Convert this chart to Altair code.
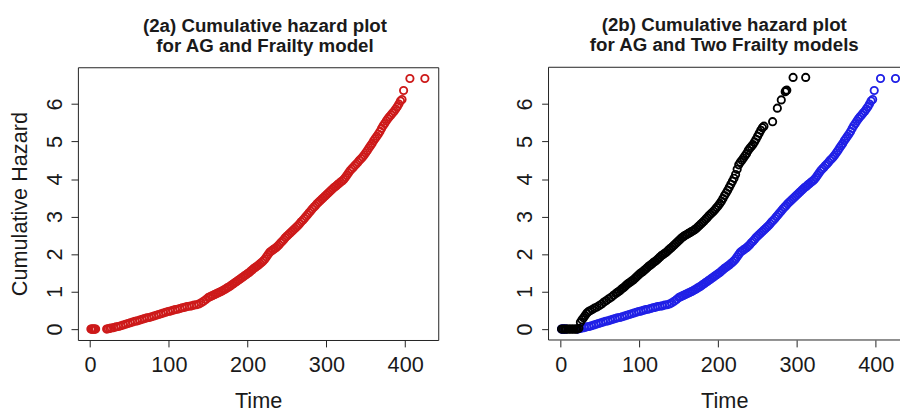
import altair as alt
import pandas as pd

# AG model: cumulative hazard at each event time
ag_time = [1, 2, 3, 4, 5, 6, 7,
           21, 23, 25, 27, 30, 33, 36, 39, 42, 45, 48, 51, 54, 57, 60, 63, 66, 69, 72, 75,
           78, 81, 84, 87, 90, 93, 96, 99, 102, 105, 108, 111, 114, 117, 120, 123, 126, 129,
           132, 135, 138, 141, 144, 147, 150, 152, 154, 156, 158, 160, 162, 164, 166, 168,
           170, 172, 174, 176, 178, 180, 182, 184, 186, 188, 190, 192, 194, 196, 198, 200,
           202, 204, 206, 208, 210, 212, 214, 216, 218, 220, 222, 224, 226, 228, 230, 232,
           234, 236, 238, 240, 242, 244, 246, 248, 250, 252, 254, 256, 258, 260, 262, 264,
           266, 268, 270, 272, 274, 276, 278, 280, 282, 284, 286, 288, 290, 292, 294, 296,
           298, 300, 302, 304, 306, 308, 310, 312, 314, 316, 318, 320, 322, 324, 326, 328,
           330, 332, 334, 336, 338, 340, 342, 344, 346, 348, 350, 352, 354, 356, 358, 360,
           362, 364, 366, 368, 370, 372, 374, 376, 378, 380, 382, 384, 386, 388, 390, 392,
           394, 396, 398, 406, 425]
ag_haz = [0, 0, 0, 0, 0, 0, 0,
          0.00, 0.01, 0.02, 0.03, 0.04, 0.06, 0.07, 0.09, 0.11, 0.13, 0.15, 0.17, 0.19, 0.21, 0.22, 0.24, 0.26, 0.28, 0.30, 0.31,
          0.33, 0.35, 0.37, 0.39, 0.41, 0.43, 0.45, 0.47, 0.48, 0.50, 0.52, 0.53, 0.55, 0.57, 0.58, 0.60, 0.61, 0.62,
          0.64, 0.65, 0.67, 0.70, 0.74, 0.79, 0.84, 0.86, 0.88, 0.90, 0.92, 0.94, 0.96, 0.98, 1.00, 1.02,
          1.05, 1.07, 1.10, 1.12, 1.15, 1.18, 1.21, 1.24, 1.27, 1.30, 1.33, 1.36, 1.39, 1.42, 1.45, 1.48,
          1.51, 1.55, 1.58, 1.62, 1.65, 1.68, 1.71, 1.75, 1.78, 1.82, 1.87, 1.93, 1.99, 2.05, 2.08, 2.11,
          2.14, 2.17, 2.21, 2.25, 2.30, 2.34, 2.39, 2.44, 2.48, 2.52, 2.56, 2.60, 2.64, 2.68, 2.72, 2.76,
          2.81, 2.86, 2.90, 2.95, 3.00, 3.05, 3.10, 3.15, 3.20, 3.25, 3.29, 3.34, 3.38, 3.42, 3.46, 3.50,
          3.54, 3.58, 3.62, 3.66, 3.70, 3.74, 3.78, 3.81, 3.85, 3.88, 3.92, 3.95, 3.99, 4.04, 4.10, 4.16,
          4.22, 4.27, 4.31, 4.36, 4.40, 4.45, 4.50, 4.54, 4.59, 4.64, 4.70, 4.76, 4.83, 4.89, 4.95, 5.02,
          5.08, 5.14, 5.20, 5.27, 5.35, 5.42, 5.48, 5.55, 5.61, 5.66, 5.71, 5.76, 5.81, 5.87, 5.93, 6.00,
          6.08, 6.12, 6.36, 6.68, 6.68]

# Frailty model (black series in panel 2b)
fr_time = [1, 3, 5, 7, 9, 11, 13, 15, 17, 19, 21, 23,
           25, 27, 29, 31, 33, 35, 37, 40, 43, 46, 49, 52, 55, 58, 61, 64, 67, 70, 72, 74,
           76, 78, 80, 82, 84, 86, 88, 90, 92, 94, 96, 98, 100, 102, 104, 106, 108, 110, 112,
           114, 116, 118, 120, 122, 124, 126, 128, 130, 132, 134, 136, 138, 140, 142, 144, 146,
           148, 150, 152, 154, 156, 158, 160, 162, 164, 166, 168, 170, 172, 174, 176, 178, 180,
           182, 184, 186, 188, 190, 192, 194, 196, 198, 200, 202, 204, 206, 208, 210, 212, 214,
           216, 218, 220, 222, 224, 226, 228, 230, 232, 234, 236, 238, 240, 242, 244, 246, 248,
           250, 252, 254, 256, 258, 269, 275, 280, 285, 286, 287, 295, 311]
fr_haz = [0, 0, 0, 0, 0, 0, 0, 0, 0, 0, 0, 0.02,
          0.18, 0.25, 0.30, 0.36, 0.42, 0.46, 0.49, 0.52, 0.56, 0.59, 0.63, 0.67, 0.72, 0.76, 0.81, 0.85, 0.90, 0.95, 0.98, 1.01,
          1.04, 1.08, 1.11, 1.15, 1.19, 1.22, 1.25, 1.28, 1.31, 1.35, 1.39, 1.43, 1.47, 1.50, 1.53, 1.57, 1.60, 1.64, 1.68,
          1.71, 1.74, 1.78, 1.81, 1.84, 1.88, 1.92, 1.96, 1.99, 2.02, 2.05, 2.09, 2.13, 2.16, 2.20, 2.24, 2.28,
          2.32, 2.36, 2.40, 2.44, 2.47, 2.50, 2.52, 2.55, 2.57, 2.60, 2.62, 2.65, 2.68, 2.72, 2.76, 2.80, 2.84,
          2.88, 2.93, 2.97, 3.02, 3.06, 3.10, 3.14, 3.19, 3.24, 3.29, 3.35, 3.41, 3.48, 3.56, 3.63, 3.70, 3.78,
          3.86, 3.94, 4.02, 4.12, 4.26, 4.38, 4.45, 4.50, 4.56, 4.62, 4.68, 4.76, 4.82, 4.87, 4.92, 4.99, 5.06,
          5.14, 5.22, 5.30, 5.37, 5.41, 5.53, 5.89, 6.11, 6.33, 6.36, 6.37, 6.71, 6.71]

x_ticks = [0, 100, 200, 300, 400]
y_ticks = [0, 1, 2, 3, 4, 5, 6]

FONT = "Liberation Sans"
RED = "#cd1a1a"
BLUE = "#2020e6"
BLACK = "#000000"
EDGE = "#222222"

ag_df = pd.DataFrame({"time": ag_time, "haz": ag_haz})
fr_df = pd.DataFrame({"time": fr_time, "haz": fr_haz})

H = 277
WL = 366          # left panel (full frame)
WR = 357          # right panel, cut off by the page edge like the reference
PX_PER_UNIT = 0.8
xs_left = alt.Scale(domain=[-15.5, -15.5 + WL / PX_PER_UNIT], nice=False, zero=False)
xs_right = alt.Scale(domain=[-15.5, -15.5 + WR / PX_PER_UNIT], nice=False, zero=False)
ys = alt.Scale(domain=[-0.29, 6.98], nice=False, zero=False)


def enc(chart, xs, ytitle):
    yaxis = dict(values=y_ticks, labelAngle=270, labelAlign="center",
                 labelBaseline="bottom", labelPadding=5, titlePadding=12)
    yaxis["title"] = ytitle if ytitle else ""
    return chart.encode(
        x=alt.X("time:Q", scale=xs,
                axis=alt.Axis(values=x_ticks, title="Time", labelPadding=8,
                              titlePadding=16)),
        y=alt.Y("haz:Q", scale=ys, axis=alt.Axis(**yaxis)),
    )


def pts(df, color):
    return alt.Chart(df).mark_point(shape="circle", filled=False, size=55,
                                    strokeWidth=1.9, color=color, opacity=1,
                                    clip=True)


def ttl(lines, dx):
    return alt.TitleParams(text=lines, font=FONT, fontSize=19, fontWeight="bold",
                           lineHeight=20, anchor="middle", dx=dx, offset=12,
                           color="#1a1a1a")


left = enc(pts(ag_df, RED), xs_left, "Cumulative Hazard").properties(
    width=WL, height=H,
    title=ttl(["(2a) Cumulative hazard plot", "for AG and Frailty model"], 7))

# frame of the right panel: left, top and bottom edges only (right edge is off-page)
frame_top = alt.Chart().mark_rule(color=EDGE, strokeWidth=1).encode(
    x=alt.value(0), x2=alt.value(WR), y=alt.value(0))
frame_bottom = alt.Chart().mark_rule(color=EDGE, strokeWidth=1).encode(
    x=alt.value(0), x2=alt.value(WR), y=alt.value(H))
frame_left = alt.Chart().mark_rule(color=EDGE, strokeWidth=1).encode(
    x=alt.value(0), y=alt.value(0), y2=alt.value(H))

right = alt.layer(
    enc(pts(ag_df, BLUE), xs_right, None),
    enc(pts(fr_df, BLACK), xs_right, None),
    frame_top, frame_bottom, frame_left,
).properties(
    width=WR, height=H,
    view=alt.ViewBackground(strokeOpacity=0),
    title=ttl(["(2b) Cumulative hazard plot", "for AG and Two Frailty models"], 0))

chart = alt.hconcat(left, right, spacing=76).properties(
    padding={"left": 0, "top": 5, "right": 0, "bottom": 0},
    background="white",
).configure_view(stroke=EDGE, strokeWidth=1).configure_axis(
    domain=False, grid=False, tickColor=EDGE, tickSize=7, tickWidth=1,
    labelFont=FONT, labelFontSize=22, labelColor="#1a1a1a",
    titleFont=FONT, titleFontSize=22, titleFontWeight="normal", titleColor="#1a1a1a",
)

chart.save("out.html", embed_options={"renderer": "svg", "actions": False})
